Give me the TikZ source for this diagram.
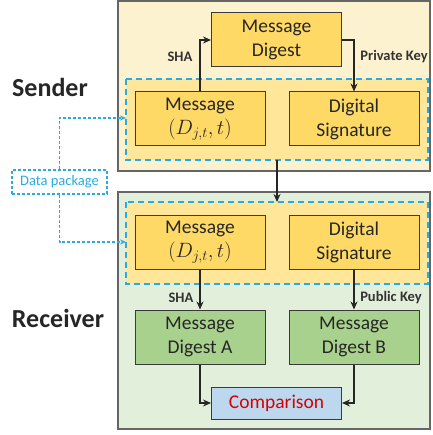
\documentclass[tikz,border=0pt]{standalone}
\usepackage{fontspec}
\setmainfont{Carlito}
\usetikzlibrary{arrows.meta}
\definecolor{sendbg}{HTML}{FDF2D0}
\definecolor{pkgbg}{HTML}{FFE699}
\definecolor{gold}{HTML}{FFD966}
\definecolor{recbg}{HTML}{E2EFDA}
\definecolor{grn}{HTML}{A9D18E}
\definecolor{cmpbl}{HTML}{BDD7EE}
\definecolor{pkgblue}{HTML}{29ABE2}
\definecolor{bord}{HTML}{3A3A3A}
\begin{document}
\begin{tikzpicture}[x=1pt,y=-1pt,
  outerbox/.style={draw=black!60,line width=1.5pt},
  pkgbox/.style={draw=pkgblue,fill=pkgbg,dash pattern=on 6pt off 4pt,line width=1.2pt},
  boxstyle/.style={draw=bord,line width=1pt,minimum width=130pt,minimum height=54pt,inner sep=0pt,align=center,font=\fontsize{19.5}{24}\selectfont,text=black!85},
  goldbox/.style={boxstyle,fill=gold},
  greenbox/.style={boxstyle,fill=grn},
  arr/.style={draw=black!85,line width=2pt,-{Stealth[length=8pt,width=7pt]}},
  lbl/.style={font=\fontsize{14.5}{16}\selectfont\bfseries,text=black!80},
  big/.style={font=\fontsize{26}{30}\selectfont\bfseries,text=black!85},
  dline/.style={draw=pkgblue,line width=1.2pt,dash pattern=on 3pt off 2pt,-{Stealth[length=6pt,width=5pt]}}
]
\useasboundingbox (0,0) rectangle (432,435);
% backgrounds
\filldraw[outerbox,fill=sendbg] (118,1) rectangle (430,171);
\filldraw[outerbox,fill=recbg] (118,192) rectangle (430,429);
\path[pkgbox] (126,79) rectangle (428,160);
\path[pkgbox] (126,202) rectangle (428,284);
\coordinate (sp) at (126,118);
\coordinate (rp) at (126,242);
\coordinate (stop) at (277,160);
\coordinate (rtop) at (277,202);
% sender
\node[goldbox] (md) at (276.5,40) {Message\\Digest};
\node[goldbox] (sm) at (200,119) {Message\\$(D_{j,t},t)$};
\node[goldbox] (sds) at (354,119) {Digital\\Signature};
% receiver
\node[goldbox] (rm) at (200,242.5) {Message\\$(D_{j,t},t)$};
\node[goldbox] (rds) at (354,242.5) {Digital\\Signature};
\node[greenbox] (mda) at (200,337) {Message\\Digest A};
\node[greenbox] (mdb) at (354,337) {Message\\Digest B};
\node[boxstyle,fill=cmpbl,minimum height=32pt,text=red!85!black] (cmp) at (276.5,403) {Comparison};
% arrows
\draw[arr] (sm.north) |- (md.west);
\draw[arr] (md.east) -| (sds.north);
\draw[arr] (stop) -- (rtop);
\draw[arr] (rm.south) -- (mda.north);
\draw[arr] (rds.south) -- (mdb.north);
\draw[arr] (mda.south) |- (cmp.west);
\draw[arr] (mdb.south) |- (cmp.east);
% labels
\node[lbl] (l1) at (180,57) {SHA};
\node[lbl] (l2) at (394,57) {Private Key};
\node[lbl] (l3) at (181,298) {SHA};
\node[lbl] (l4) at (391,298) {Public Key};
\node[big] (snd) at (50,87) {Sender};
\node[big] (rcv) at (58,318) {Receiver};
% data package
\node[draw=pkgblue,line width=1.2pt,dash pattern=on 3pt off 2pt,minimum width=95pt,minimum height=24pt,inner sep=0pt,text=pkgblue,font=\fontsize{14.5}{16}\selectfont] (dp) at (59.5,182) {Data package};
\draw[dline] (dp.north) |- (sp);
\draw[dline] (dp.south) |- (rp);
\end{tikzpicture}
\end{document}
